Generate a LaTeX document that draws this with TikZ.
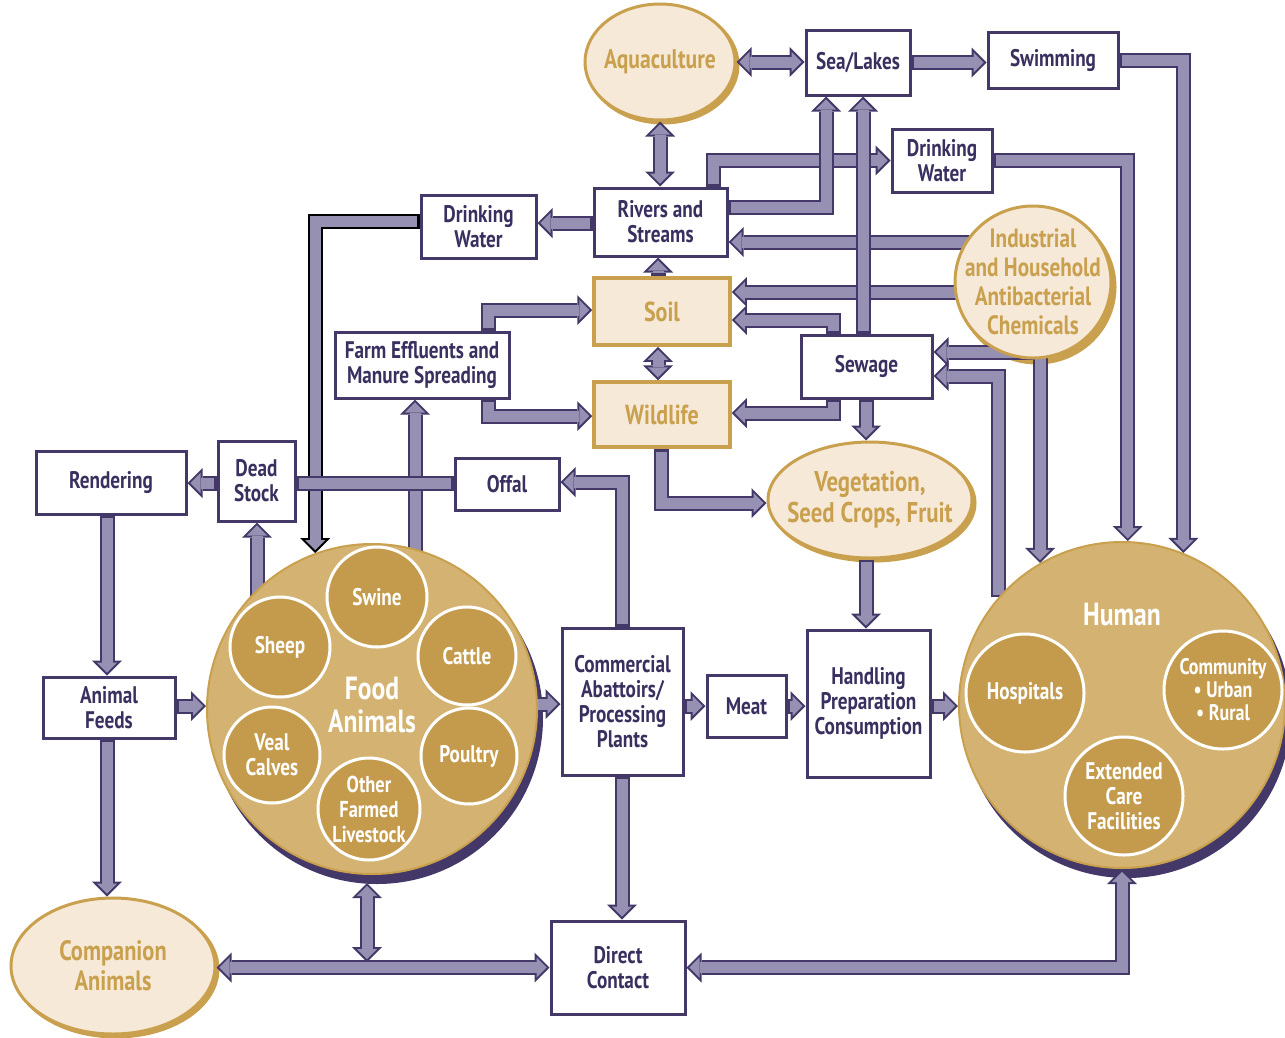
\documentclass[tikz,border=0pt]{standalone}
\usepackage{fontspec}
\setmainfont{PT Sans}[FakeStretch=0.8]
\usetikzlibrary{arrows.meta,shapes.geometric,backgrounds,calc}
\definecolor{pipeL}{HTML}{9690B3}
\definecolor{pipeD}{HTML}{433868}
\definecolor{txtD}{HTML}{3A305F}
\definecolor{tanL}{HTML}{F6E9D8}
\definecolor{goldD}{HTML}{C9A04E}
\definecolor{bigG}{HTML}{D4B271}
\definecolor{smG}{HTML}{C49B4C}
\tikzset{
 box/.style={draw=pipeD, line width=3pt, fill=white, text=txtD, font=\bfseries\fontsize{24}{25}\selectfont, align=center, inner sep=0pt},
 tanbox/.style={draw=goldD, line width=3.5pt, fill=tanL, text=goldD, font=\bfseries\fontsize{27.5}{28}\selectfont, inner sep=0pt},
 oval/.style={ellipse, draw=goldD, line width=3pt, fill=tanL, text=goldD, font=\bfseries\fontsize{28}{30}\selectfont, align=center, inner sep=-40pt},
 big/.style={circle, draw=goldD, line width=2pt, fill=bigG, inner sep=0pt},
 small/.style={circle, draw=white, line width=3pt, fill=smG, text=white, font=\bfseries\fontsize{24}{25}\selectfont, align=center, inner sep=-30pt},
 bigtext/.style={text=white, font=\bfseries\fontsize{32}{33}\selectfont, align=center},
 pout/.style={line width=15pt, draw=pipeD},
 pin/.style={line width=11pt, draw=pipeL, shorten >=2.8pt, shorten <=2.8pt},
 pipeOT/.tip={Triangle[length=15pt,width=30pt,line width=0pt]},
 pipeIT/.tip={Triangle[length=10.2pt,width=20.4pt,line width=0pt]},
}
\newcommand\PipeE[2][pipeD]{\draw[pout,draw=#1,-{pipeOT}] #2; \draw[pin,-{pipeIT}] #2;}
\newcommand\PipeB[2][pipeD]{\draw[pout,draw=#1,{pipeOT}-{pipeOT}] #2; \draw[pin,{pipeIT}-{pipeIT}] #2;}
\newcommand\PipeN[2][pipeD]{\draw[pout,draw=#1] #2; \draw[pin] #2;}
\begin{document}
\begin{tikzpicture}[x=1pt,y=-1pt]
\useasboundingbox (0,0) rectangle (1285,1037);
% boxes
\node[box, minimum width=104pt, minimum height=65pt] (sea) at (858,62.5) {Sea/Lakes};
\node[box, minimum width=130pt, minimum height=56pt] (swim) at (1053,60) {Swimming};
\node[box, minimum width=100pt, minimum height=63pt] (dwR) at (942,160.5) {Drinking\\Water};
\node[box, minimum width=133pt, minimum height=68pt] (rivers) at (660.5,222) {Rivers and\\Streams};
\node[box, minimum width=115pt, minimum height=63pt] (dwL) at (478.5,226.5) {Drinking\\Water};
\node[tanbox, minimum width=136pt, minimum height=67pt] (soil) at (662,311.5) {Soil};
\node[tanbox, minimum width=136pt, minimum height=65pt] (wild) at (662,414.5) {Wildlife};
\node[box, minimum width=131pt, minimum height=63pt] (sewage) at (866.5,366.5) {Sewage};
\node[box, minimum width=174pt, minimum height=66pt] (farm) at (422,365) {Farm Effluents and\\Manure Spreading};
\node[box, minimum width=104pt, minimum height=52pt] (offal) at (507,484) {Offal};
\node[box, minimum width=77pt, minimum height=80pt] (dead) at (256.5,481) {Dead\\Stock};
\node[box, minimum width=150pt, minimum height=63pt] (render) at (111,482.5) {Rendering};
\node[box, minimum width=132pt, minimum height=61pt] (feeds) at (109,707.5) {Animal\\Feeds};
\node[box, minimum width=121pt, minimum height=147pt] (comm) at (622.5,701.5) {Commercial\\Abattoirs/\\Processing\\Plants};
\node[box, minimum width=79pt, minimum height=62pt] (meat) at (746.5,706) {Meat};
\node[box, minimum width=123pt, minimum height=147pt] (handl) at (868.5,703.5) {Handling\\Preparation\\Consumption};
\node[box, minimum width=134pt, minimum height=93pt] (direct) at (618,967.5) {Direct\\Contact};
% ovals
\node[oval, minimum width=150pt, minimum height=116pt, font=\bfseries\fontsize{27}{30}\selectfont] (aqua) at (660,62) {Aquaculture};
\node[oval, minimum width=156pt, minimum height=152pt, font=\bfseries\fontsize{26.5}{29}\selectfont] (indus) at (1033,282) {Industrial\\and Household\\Antibacterial\\Chemicals};
\node[oval, minimum width=204pt, minimum height=116pt, font=\bfseries\fontsize{28.5}{31}\selectfont] (veg) at (870,500) {Vegetation,\\Seed Crops, Fruit};
\node[oval, minimum width=204pt, minimum height=136pt] (comp) at (113,966) {Companion\\Animals};
% big circles
\node[big, minimum size=330pt] (food) at (372,709) {};
\node[bigtext] (foodT) at (372,705) {Food\\Animals};
\node[small, minimum size=100pt] (swine) at (377,597) {Swine};
\node[small, minimum size=100pt] (sheep) at (280,647) {Sheep};
\node[small, minimum size=98pt] (cattle) at (467,656) {Cattle};
\node[small, minimum size=96pt] (veal) at (272,755) {Veal\\Calves};
\node[small, minimum size=96pt] (poultry) at (469,756) {Poultry};
\node[small, minimum size=102pt, font=\bfseries\fontsize{23}{25}\selectfont] (other) at (369,809) {Other\\Farmed\\Livestock};
\node[big, minimum size=326pt] (human) at (1122,705) {};
\node[bigtext] (humanT) at (1122,615) {Human};
\node[small, minimum size=118pt] (hosp) at (1025,693) {Hospitals};
\node[small, minimum size=118pt, font=\bfseries\fontsize{22.5}{23}\selectfont] (commu) at (1223,690) {Community\\• Urban\\• Rural};
\node[small, minimum size=118pt] (ext) at (1124,796) {Extended\\Care\\Facilities};
\coordinate (junc) at (367,962);
\coordinate (foodtip) at (367,883);
\begin{pgfonlayer}{background}
\fill[pipeD] ($(food.center)+(5,9)$) circle[radius=166pt];
\fill[pipeD] ($(human.center)+(5,9)$) circle[radius=164pt];
\fill[goldD] ($(indus.center)+(4,5)$) ellipse[x radius=79.5pt, y radius=77.5pt];
\fill[goldD] ($(aqua.center)+(3,3)$) ellipse[x radius=76.5pt, y radius=59.5pt];
\fill[goldD] ($(veg.center)+(3,3)$) ellipse[x radius=103.5pt, y radius=59.5pt];
\fill[goldD] ($(comp.center)+(3,3)$) ellipse[x radius=103.5pt, y radius=69.5pt];
% pipes
\PipeE{(713,0 |- rivers.north) |- (dwR.west)}
\PipeE{(indus.center |- 0,242) -- (rivers.east |- 0,242)}
\PipeE{(indus.center |- 0,292) -- (soil.east |- 0,292)}
\PipeE{(rivers.east |- 0,207) -| (826,0 |- sea.south)}
\PipeE{(863,0 |- sewage.north) -- (863,0 |- sea.south)}
\PipeB{(aqua.east) -- (sea.west |- aqua.east)}
\PipeB{(aqua.south) -- (aqua.south |- rivers.north)}
\PipeE{(sea.east) -- (swim.west |- sea.east)}
\PipeE{(swim.east) -| (human.68)}
\PipeE{(dwR.east) -| (human.88)}
\PipeE{(rivers.west |- 0,223) -- (dwL.east |- 0,223)}
\PipeE[black]{(dwL.west |- 0,221) -| (food.110)}
\PipeE{(833,0 |- sewage.north) |- (soil.east |- 0,320)}
\PipeE{(833,0 |- sewage.south) |- (wild.east |- 0,413)}
\PipeB{(658,0 |- soil.south) -- (658,0 |- wild.north)}
\PipeE{(658,0 |- soil.north) -- (658,0 |- rivers.south)}
\PipeE{(866,0 |- sewage.south) -- (866,0 |- veg.north)}
\PipeE{(indus.center |- 0,352) -- (sewage.east |- 0,352)}
\PipeE{(indus.center -| human.120) -- (human.120)}
\PipeE{(human.139) |- (sewage.east |- 0,376)}
\PipeE{(488,0 |- farm.north) |- (soil.west |- 0,310)}
\PipeE{(488,0 |- farm.south) |- (wild.west |- 0,416)}
\PipeE{(415,0 |- food.center) -- (415,0 |- farm.south)}
\PipeN{(offal.west |- 0,483) -- (dead.east |- 0,483)}
\PipeE{(dead.west |- 0,483) -- (render.east |- 0,483)}
\PipeE{(622,0 |- comm.north) |- (offal.east |- 0,482)}
\PipeE{(257,0 |- food.center) -- (257,0 |- dead.south)}
\PipeE{(107,0 |- render.south) -- (107,0 |- feeds.north)}
\PipeE{(feeds.east |- 0,706) -- (food.west |- 0,706)}
\PipeE{(107,0 |- feeds.south) -- (107,0 |- comp.north)}
\PipeE{(food.center |- 0,704) -- (comm.west |- 0,704)}
\PipeE{(comm.east |- 0,706) -- (meat.west |- 0,706)}
\PipeE{(meat.east |- 0,706) -- (handl.west |- 0,706)}
\PipeE{(handl.east |- 0,706) -- (human.west |- 0,706)}
\PipeE{(866,0 |- veg.south) -- (866,0 |- handl.north)}
\PipeE{(661,0 |- wild.south) |- (veg.west |- 0,503)}
\PipeE{(622,0 |- comm.south) -- (622,0 |- direct.north)}
\PipeB{(human.south) |- (direct.east)}
\PipeB{(comp.east |- direct.west) -- (direct.west)}
\PipeB{(foodtip) -- (junc)}
\end{pgfonlayer}
\end{tikzpicture}
\end{document}
